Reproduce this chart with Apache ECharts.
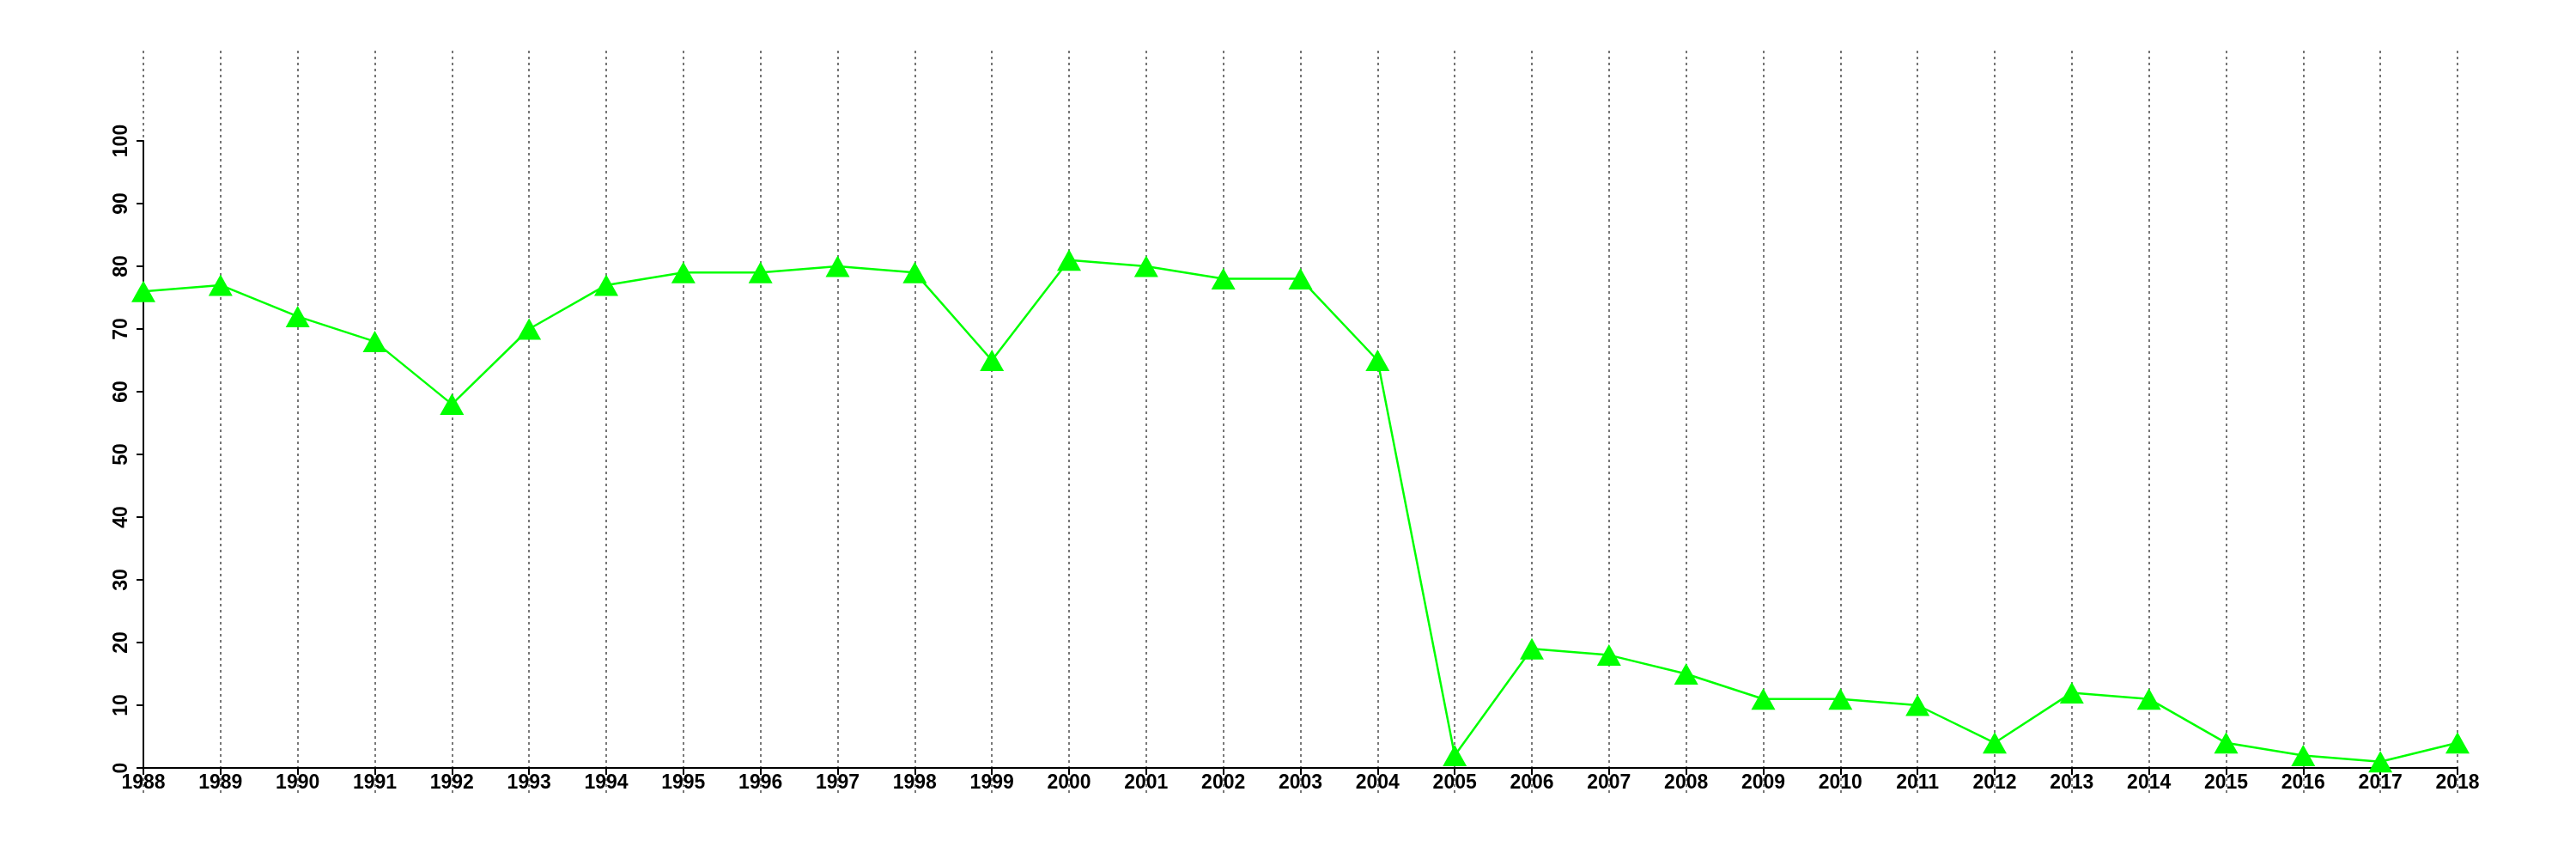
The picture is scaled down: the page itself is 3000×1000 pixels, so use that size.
<!DOCTYPE html>
<html>
<head>
<meta charset="utf-8">
<script src="https://cdn.jsdelivr.net/npm/echarts@6/dist/echarts.min.js"></script>
<style>html,body{margin:0;padding:0;background:#fff}#c{width:3000px;height:1000px}</style>
</head>
<body>
<div id="c"></div>
<script>
const years = ['1988','1989','1990','1991','1992','1993','1994','1995','1996','1997','1998','1999','2000','2001','2002','2003','2004','2005','2006','2007','2008','2009','2010','2011','2012','2013','2014','2015','2016','2017','2018'];
const values = [76,77,72,68,58,70,77,79,79,80,79,65,81,80,78,78,65,2,19,18,15,11,11,10,4,12,11,4,2,1,4];
const yMin = 0, yMax = 100, yStep = 10;

const font = {fontFamily: 'Liberation Sans', fontSize: 23, fontWeight: 'bold', color: '#000'};
const chart = echarts.init(document.getElementById('c'));
chart.setOption({
  animation: false,
  backgroundColor: '#fff',
  grid: [
    {left: 167, right: 138, top: 164, bottom: 106},
    {left: 167, right: 138, top: 59, bottom: 73}
  ],
  xAxis: [
    {
      type: 'category', gridIndex: 0, data: years, boundaryGap: false,
      axisLine: {show: true, lineStyle: {color: '#000', width: 2}},
      axisTick: {show: true, alignWithLabel: true, length: 8, lineStyle: {color: '#000', width: 2}},
      axisLabel: Object.assign({margin: 6, interval: 0}, font),
      splitLine: {show: false}
    },
    {
      type: 'category', gridIndex: 1, data: years, boundaryGap: false,
      axisLine: {show: false}, axisTick: {show: false}, axisLabel: {show: false},
      splitLine: {show: true, interval: 0, lineStyle: {color: '#777', width: 2, type: [3, 4]}}
    }
  ],
  yAxis: [
    {
      type: 'value', gridIndex: 0, min: yMin, max: yMax, interval: yStep,
      axisLine: {show: true, lineStyle: {color: '#000', width: 2}},
      axisTick: {show: true, length: 8, lineStyle: {color: '#000', width: 2}},
      axisLabel: Object.assign({rotate: 90, margin: 14, verticalAlign: 'bottom'}, font),
      splitLine: {show: false}
    },
    {
      type: 'value', gridIndex: 1, min: 0, max: 1, show: false, splitLine: {show: false}
    }
  ],
  series: [{
    type: 'line', xAxisIndex: 0, yAxisIndex: 0, data: values,
    lineStyle: {color: '#00ff00', width: 2.5},
    itemStyle: {color: '#00ff00'},
    symbol: 'triangle', symbolSize: [28, 25], showAllSymbol: true,
    z: 5
  }]
});
</script>
</body>
</html>
